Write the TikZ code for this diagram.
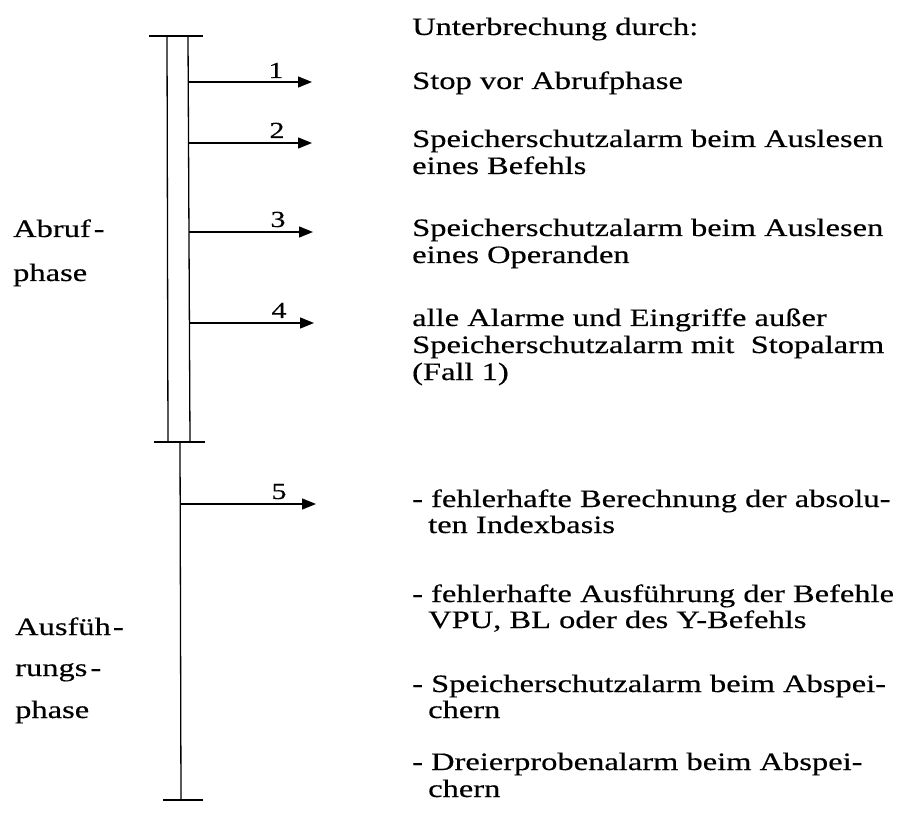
\documentclass[tikz,border=0pt]{standalone}
\usepackage{fontspec}
\setmainfont{Liberation Serif}[FakeStretch=1.3,FakeBold=0.4]
\usetikzlibrary{arrows.meta}
\begin{document}
\begin{tikzpicture}[x=1pt,y=-1pt,
  font=\fontsize{25}{27}\selectfont,
  txt/.style={anchor=base west, inner sep=0pt},
  num/.style={anchor=base, inner sep=0pt, font=\fontsize{23}{24}\selectfont},
  bar/.style={line width=1.6pt},
  rail/.style={line width=1.3pt},
  arr/.style={line width=1.3pt, -{Triangle[length=14pt,width=11pt]}}]
\useasboundingbox (0,0) rectangle (919,813);

% structure
\coordinate (tl) at (149,36);  \coordinate (tr) at (203,36);
\coordinate (lt) at (167,36);  \coordinate (lb) at (168,442);
\coordinate (rt) at (188,36);  \coordinate (rb) at (190,442);
\coordinate (ml) at (154,442); \coordinate (mr) at (205,442);
\coordinate (st) at (180,442); \coordinate (sb) at (181,800);
\coordinate (bl) at (163,800); \coordinate (br) at (203,800);

\draw[bar] (tl) -- (tr);
\draw[rail] (lt) -- (lb);
\draw[rail] (rt) -- (rb);
\draw[bar] (ml) -- (mr);
\draw[rail] (st) -- (sb);
\draw[bar] (bl) -- (br);

% arrows
\coordinate (s1) at (189,82);  \coordinate (e1) at (312,82);
\coordinate (s2) at (189,143); \coordinate (e2) at (312,143);
\coordinate (s3) at (189,232); \coordinate (e3) at (313,232);
\coordinate (s4) at (189,323); \coordinate (e4) at (314,323);
\coordinate (s5) at (180,504); \coordinate (e5) at (316,504);
\draw[arr] (s1) -- (e1);
\draw[arr] (s2) -- (e2);
\draw[arr] (s3) -- (e3);
\draw[arr] (s4) -- (e4);
\draw[arr] (s5) -- (e5);

\node[num] (n1) at (276,78) {1};
\node[num] (n2) at (277,138) {2};
\node[num] (n3) at (278,227) {3};
\node[num] (n4) at (279,318) {4};
\node[num] (n5) at (279,499) {5};

% left labels
\node[txt] (la1) at (13,237) {Abruf\kern3pt-};
\node[txt] (la2) at (13,281) {phase};
\node[txt] (lb1) at (15,635) {Ausfüh\kern2pt-};
\node[txt] (lb2) at (15,676) {rungs\kern3pt-};
\node[txt] (lb3) at (15,718) {phase};

% right texts
\node[txt] (h)   at (412,35)  {Unterbrechung durch:};
\node[txt] (t1)  at (412,89)  {Stop vor Abrufphase};
\node[txt] (t2a) at (412,147) {Speicherschutzalarm beim Auslesen};
\node[txt] (t2b) at (412,174) {eines Befehls};
\node[txt] (t3a) at (412,236) {Speicherschutzalarm beim Auslesen};
\node[txt] (t3b) at (412,263) {eines Operanden};
\node[txt] (t4a) at (412,326) {alle Alarme und Eingriffe außer};
\node[txt] (t4b) at (412,353) {Speicherschutzalarm mit~ Stopalarm};
\node[txt] (t4c) at (412,380) {(Fall 1)};
\node[txt] (t5a) at (412,507) {- fehlerhafte Berechnung der absolu-};
\node[txt] (t5b) at (428,533) {ten Indexbasis};
\node[txt] (t6a) at (412,602) {- fehlerhafte Ausführung der Befehle};
\node[txt] (t6b) at (428,628) {VPU, BL oder des Y-Befehls};
\node[txt] (t7a) at (412,692) {- Speicherschutzalarm beim Abspei-};
\node[txt] (t7b) at (428,718) {chern};
\node[txt] (t8a) at (412,770) {- Dreierprobenalarm beim Abspei-};
\node[txt] (t8b) at (428,797) {chern};
\end{tikzpicture}
\end{document}
